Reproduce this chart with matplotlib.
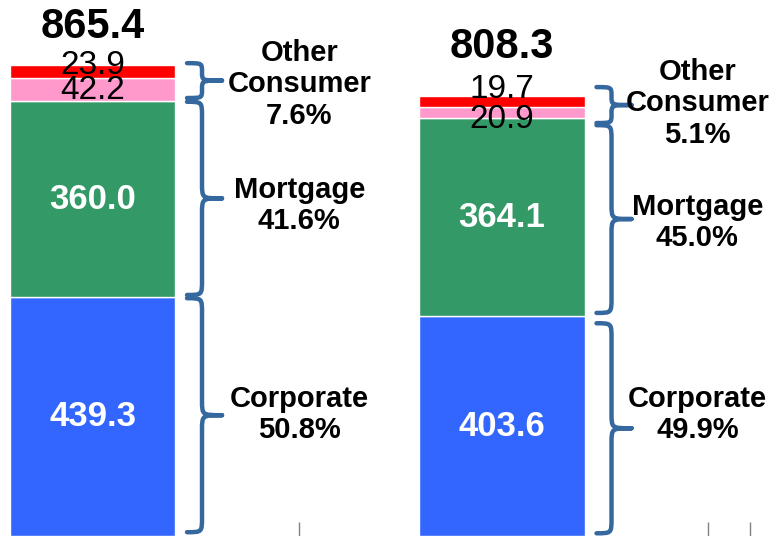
import matplotlib
matplotlib.use("Agg")
import matplotlib.pyplot as plt
from matplotlib.path import Path
from matplotlib.patches import PathPatch
import numpy as np

plt.rcParams['font.family'] = ['Liberation Sans', 'DejaVu Sans']

# ---- data ----
groups = ["A", "B"]
corporate = [439.3, 403.6]
mortgage = [360.0, 364.1]
consumer_pink = [42.2, 20.9]
consumer_red = [23.9, 19.7]
totals = [865.4, 808.3]
share_other = ["7.6%", "5.1%"]
share_mortgage = ["41.6%", "45.0%"]
share_corporate = ["50.8%", "49.9%"]

# ---- layout constants (value units) ----
total_label_y = [915, 878]
red_label_y = [849, 805]
pink_label_y = [803, 750]
brace_other = [(805, 869), (759, 825)]
brace_mort = [(443, 798), (410, 755)]
brace_corp = [(7, 437), (5, 391)]
brace_text_dx = [0.505, 0.477]
brace_text_y_other = [830, 795]
brace_text_y_mort = [608, 576]
brace_text_y_corp = [223, 223]

fig = plt.figure(figsize=(7.73, 5.36), dpi=100)
ax = fig.add_axes([0, 0, 1, 1])
ax.set_xlim(-0.2259, 1.6618)
ax.set_ylim(0, 985.1)

x = np.arange(len(groups))
w = 0.403
c_blue, c_green, c_pink, c_red = "#3366FF", "#339966", "#FF99CC", "#FF0000"
b1 = np.array(corporate)
b2 = b1 + np.array(mortgage)
b3 = b2 + np.array(consumer_pink)
ax.bar(x, corporate, w, color=c_blue, edgecolor="white", linewidth=1)
ax.bar(x, mortgage, w, bottom=b1, color=c_green, edgecolor="white", linewidth=1)
ax.bar(x, consumer_pink, w, bottom=b2, color=c_pink, edgecolor="white", linewidth=1)
ax.bar(x, consumer_red, w, bottom=b3, color=c_red, edgecolor="white", linewidth=1)

for i in range(len(groups)):
    ax.text(x[i], total_label_y[i], f"{totals[i]:.1f}", ha="center", va="baseline",
            fontsize=30, fontweight="bold", color="black")
    ax.text(x[i], red_label_y[i], f"{consumer_red[i]:.1f}", ha="center", va="baseline",
            fontsize=24, color="black")
    ax.text(x[i], pink_label_y[i], f"{consumer_pink[i]:.1f}", ha="center", va="baseline",
            fontsize=24, color="black")
    ax.text(x[i], b1[i] + mortgage[i] / 2, f"{mortgage[i]:.1f}", ha="center", va="center",
            fontsize=25, fontweight="bold", color="white")
    ax.text(x[i], corporate[i] / 2, f"{corporate[i]:.1f}", ha="center", va="center",
            fontsize=25, fontweight="bold", color="white")

# ---- braces ----
px_x = 409.5   # px per x unit
px_y = 0.5441  # px per y unit
brace_col = "#35689E"


def brace(xi, y0, y1):
    x0 = xi + w / 2 + 12 / px_x
    xv = xi + w / 2 + 27 / px_x
    xt = xi + w / 2 + 47 / px_x
    h_px = (y1 - y0) * px_y
    r = min(15, h_px / 4.2) / px_y
    ym = (y0 + y1) / 2
    verts = [
        (x0, y1), (xv, y1), (xv, y1), (xv, y1 - r),
        (xv, ym + r),
        (xv, ym), (xv, ym), (xt, ym),
        (xv, ym), (xv, ym), (xv, ym - r),
        (xv, y0 + r),
        (xv, y0), (xv, y0), (x0, y0),
    ]
    codes = [Path.MOVETO, Path.CURVE4, Path.CURVE4, Path.CURVE4,
             Path.LINETO,
             Path.CURVE4, Path.CURVE4, Path.CURVE4,
             Path.CURVE4, Path.CURVE4, Path.CURVE4,
             Path.LINETO,
             Path.CURVE4, Path.CURVE4, Path.CURVE4]
    ax.add_patch(PathPatch(Path(verts, codes), facecolor="none", edgecolor=brace_col,
                           linewidth=3.2, capstyle="round", joinstyle="round"))


for i in range(len(groups)):
    brace(x[i], *brace_other[i])
    ax.text(x[i] + brace_text_dx[i], brace_text_y_other[i],
            f"Other\nConsumer\n{share_other[i]}", ha="center",
            va="center", fontsize=21, fontweight="bold", linespacing=1.15)
    brace(x[i], *brace_mort[i])
    ax.text(x[i] + brace_text_dx[i], brace_text_y_mort[i],
            f"Mortgage\n{share_mortgage[i]}", ha="center",
            va="center", fontsize=21, fontweight="bold", linespacing=1.15)
    brace(x[i], *brace_corp[i])
    ax.text(x[i] + brace_text_dx[i], brace_text_y_corp[i],
            f"Corporate\n{share_corporate[i]}", ha="center",
            va="center", fontsize=21, fontweight="bold", linespacing=1.15)

# ---- axis cosmetics ----
for s in ax.spines.values():
    s.set_visible(False)
ax.set_yticks([])
ax.set_xticks([0.504, 1.503, 1.606])
ax.set_xticklabels([])
ax.tick_params(axis="x", direction="in", length=10, width=1, color="#808080", pad=0)

fig.savefig("out.png", dpi=100)
